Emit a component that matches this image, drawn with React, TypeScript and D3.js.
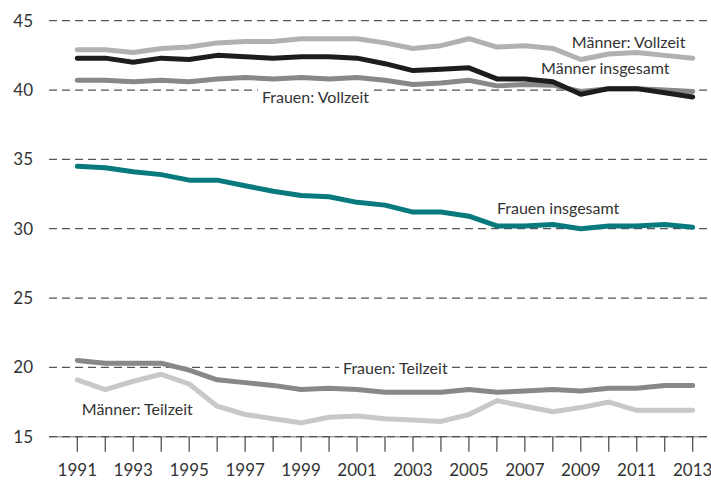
import React, { useRef, useEffect } from 'react';
import * as d3 from 'd3';

const years = d3.range(1991, 2014);
const yTicks = [15, 20, 25, 30, 35, 40, 45];
const xTickLabels = [1991, 1993, 1995, 1997, 1999, 2001, 2003, 2005, 2007, 2009, 2011, 2013];

const maennerVollzeit = [42.9, 42.9, 42.7, 43.0, 43.1, 43.4, 43.5, 43.5, 43.7, 43.7, 43.7, 43.4, 43.0, 43.2, 43.7, 43.1, 43.2, 43.0, 42.2, 42.6, 42.7, 42.5, 42.3];
const maennerInsgesamt = [42.3, 42.3, 42.0, 42.3, 42.2, 42.5, 42.4, 42.3, 42.4, 42.4, 42.3, 41.9, 41.4, 41.5, 41.6, 40.8, 40.8, 40.6, 39.7, 40.1, 40.1, 39.8, 39.5];
const frauenVollzeit = [40.7, 40.7, 40.6, 40.7, 40.6, 40.8, 40.9, 40.8, 40.9, 40.8, 40.9, 40.7, 40.4, 40.5, 40.7, 40.3, 40.4, 40.35, 39.9, 40.1, 40.1, 40.0, 39.9];
const frauenInsgesamt = [34.5, 34.4, 34.1, 33.9, 33.5, 33.5, 33.1, 32.7, 32.4, 32.3, 31.9, 31.7, 31.2, 31.2, 30.9, 30.2, 30.2, 30.3, 30.0, 30.2, 30.2, 30.3, 30.1];
const frauenTeilzeit = [20.5, 20.3, 20.3, 20.3, 19.8, 19.1, 18.9, 18.7, 18.4, 18.5, 18.4, 18.2, 18.2, 18.2, 18.4, 18.2, 18.3, 18.4, 18.3, 18.5, 18.5, 18.7, 18.7];
const maennerTeilzeit = [19.1, 18.4, 19.0, 19.5, 18.8, 17.2, 16.6, 16.3, 16.0, 16.4, 16.5, 16.3, 16.2, 16.1, 16.6, 17.6, 17.2, 16.8, 17.1, 17.5, 16.9, 16.9, 16.9];

const series = [
  { name: 'Männer: Vollzeit', values: maennerVollzeit, color: '#b1b1b3' },
  { name: 'Frauen: Vollzeit', values: frauenVollzeit, color: '#87888a' },
  { name: 'Männer insgesamt', values: maennerInsgesamt, color: '#1f1c1d' },
  { name: 'Frauen insgesamt', values: frauenInsgesamt, color: '#087a7e' },
  { name: 'Männer: Teilzeit', values: maennerTeilzeit, color: '#c8c8c8' },
  { name: 'Frauen: Teilzeit', values: frauenTeilzeit, color: '#87888a' },
];

// label placement (year, value at baseline) + whether it knocks out the grid
const labels = [
  { text: 'Männer: Vollzeit', year: 2008.68, value: 43.02, bg: false },
  { text: 'Männer insgesamt', year: 2007.58, value: 41.15, bg: false },
  { text: 'Frauen: Vollzeit', year: 1997.6, value: 39.06, bg: true },
  { text: 'Frauen insgesamt', year: 2006.0, value: 31.05, bg: false },
  { text: 'Frauen: Teilzeit', year: 2000.5, value: 19.52, bg: true },
  { text: 'Männer: Teilzeit', year: 1991.16, value: 16.56, bg: false },
];

const W = 711;
const H = 480;
const FONT = 'Lato, "Open Sans", sans-serif';

const App = () => {
  const ref = useRef<SVGSVGElement | null>(null);

  useEffect(() => {
    const svg = d3.select(ref.current);
    svg.selectAll('*').remove();

    const x = d3.scaleLinear().domain([1991, 2013]).range([77.3, 692.7]);
    const y = d3.scaleLinear().domain([15, 45]).range([436.7, 20.7]);
    const gridX0 = 49;
    const gridX1 = 707;

    // grid
    const grid = svg.append('g');
    grid.append('line')
      .attr('x1', gridX0).attr('x2', gridX1)
      .attr('y1', y(15)).attr('y2', y(15))
      .attr('stroke', '#a0a0a0').attr('stroke-width', 1.6);
    grid.selectAll('line.g')
      .data(yTicks)
      .join('line')
      .attr('class', 'g')
      .attr('x1', gridX0).attr('x2', gridX1)
      .attr('y1', d => y(d)).attr('y2', d => y(d))
      .attr('stroke', '#555')
      .attr('stroke-width', 1.3)
      .attr('stroke-dasharray', '8,5');

    // y labels
    svg.append('g').selectAll('text')
      .data(yTicks)
      .join('text')
      .attr('x', 33)
      .attr('y', d => y(d))
      .attr('dy', '0.36em')
      .attr('text-anchor', 'end')
      .attr('font-family', FONT)
      .attr('font-size', 17)
      .attr('fill', '#333')
      .text(d => d);

    // x ticks
    svg.append('g').selectAll('line')
      .data(years)
      .join('line')
      .attr('x1', d => x(d)).attr('x2', d => x(d))
      .attr('y1', y(15)).attr('y2', y(15) + 15)
      .attr('stroke', '#444').attr('stroke-width', 1.2);

    svg.append('g').selectAll('text')
      .data(xTickLabels)
      .join('text')
      .attr('x', d => x(d))
      .attr('y', 476)
      .attr('text-anchor', 'middle')
      .attr('font-family', FONT)
      .attr('font-size', 17)
      .attr('fill', '#333')
      .text(d => d);

    // labels (with white knock-out behind some)
    const lg = svg.append('g');
    labels.forEach(l => {
      const g = lg.append('g');
      const t = g.append('text')
        .attr('x', x(l.year))
        .attr('y', y(l.value))
        .attr('font-family', FONT)
        .attr('font-size', 16)
        .attr('fill', '#333')
        .text(l.text);
      if (l.bg) {
        const b = (t.node() as SVGTextElement).getBBox();
        g.insert('rect', 'text')
          .attr('x', b.x - 4).attr('y', b.y)
          .attr('width', b.width + 8).attr('height', b.height)
          .attr('fill', '#fff');
      }
    });

    // lines
    const line = d3.line<number>()
      .x((_, i) => x(years[i]))
      .y(d => y(d));

    svg.append('g').selectAll('path')
      .data(series)
      .join('path')
      .attr('d', d => line(d.values))
      .attr('fill', 'none')
      .attr('stroke', d => d.color)
      .attr('stroke-width', 5)
      .attr('stroke-linecap', 'round')
      .attr('stroke-linejoin', 'round');
  }, []);

  return (
    <svg
      ref={ref}
      width={W}
      height={H}
      style={{ position: 'absolute', left: 0, top: 0, background: '#fff' }}
    />
  );
};

export default App;
